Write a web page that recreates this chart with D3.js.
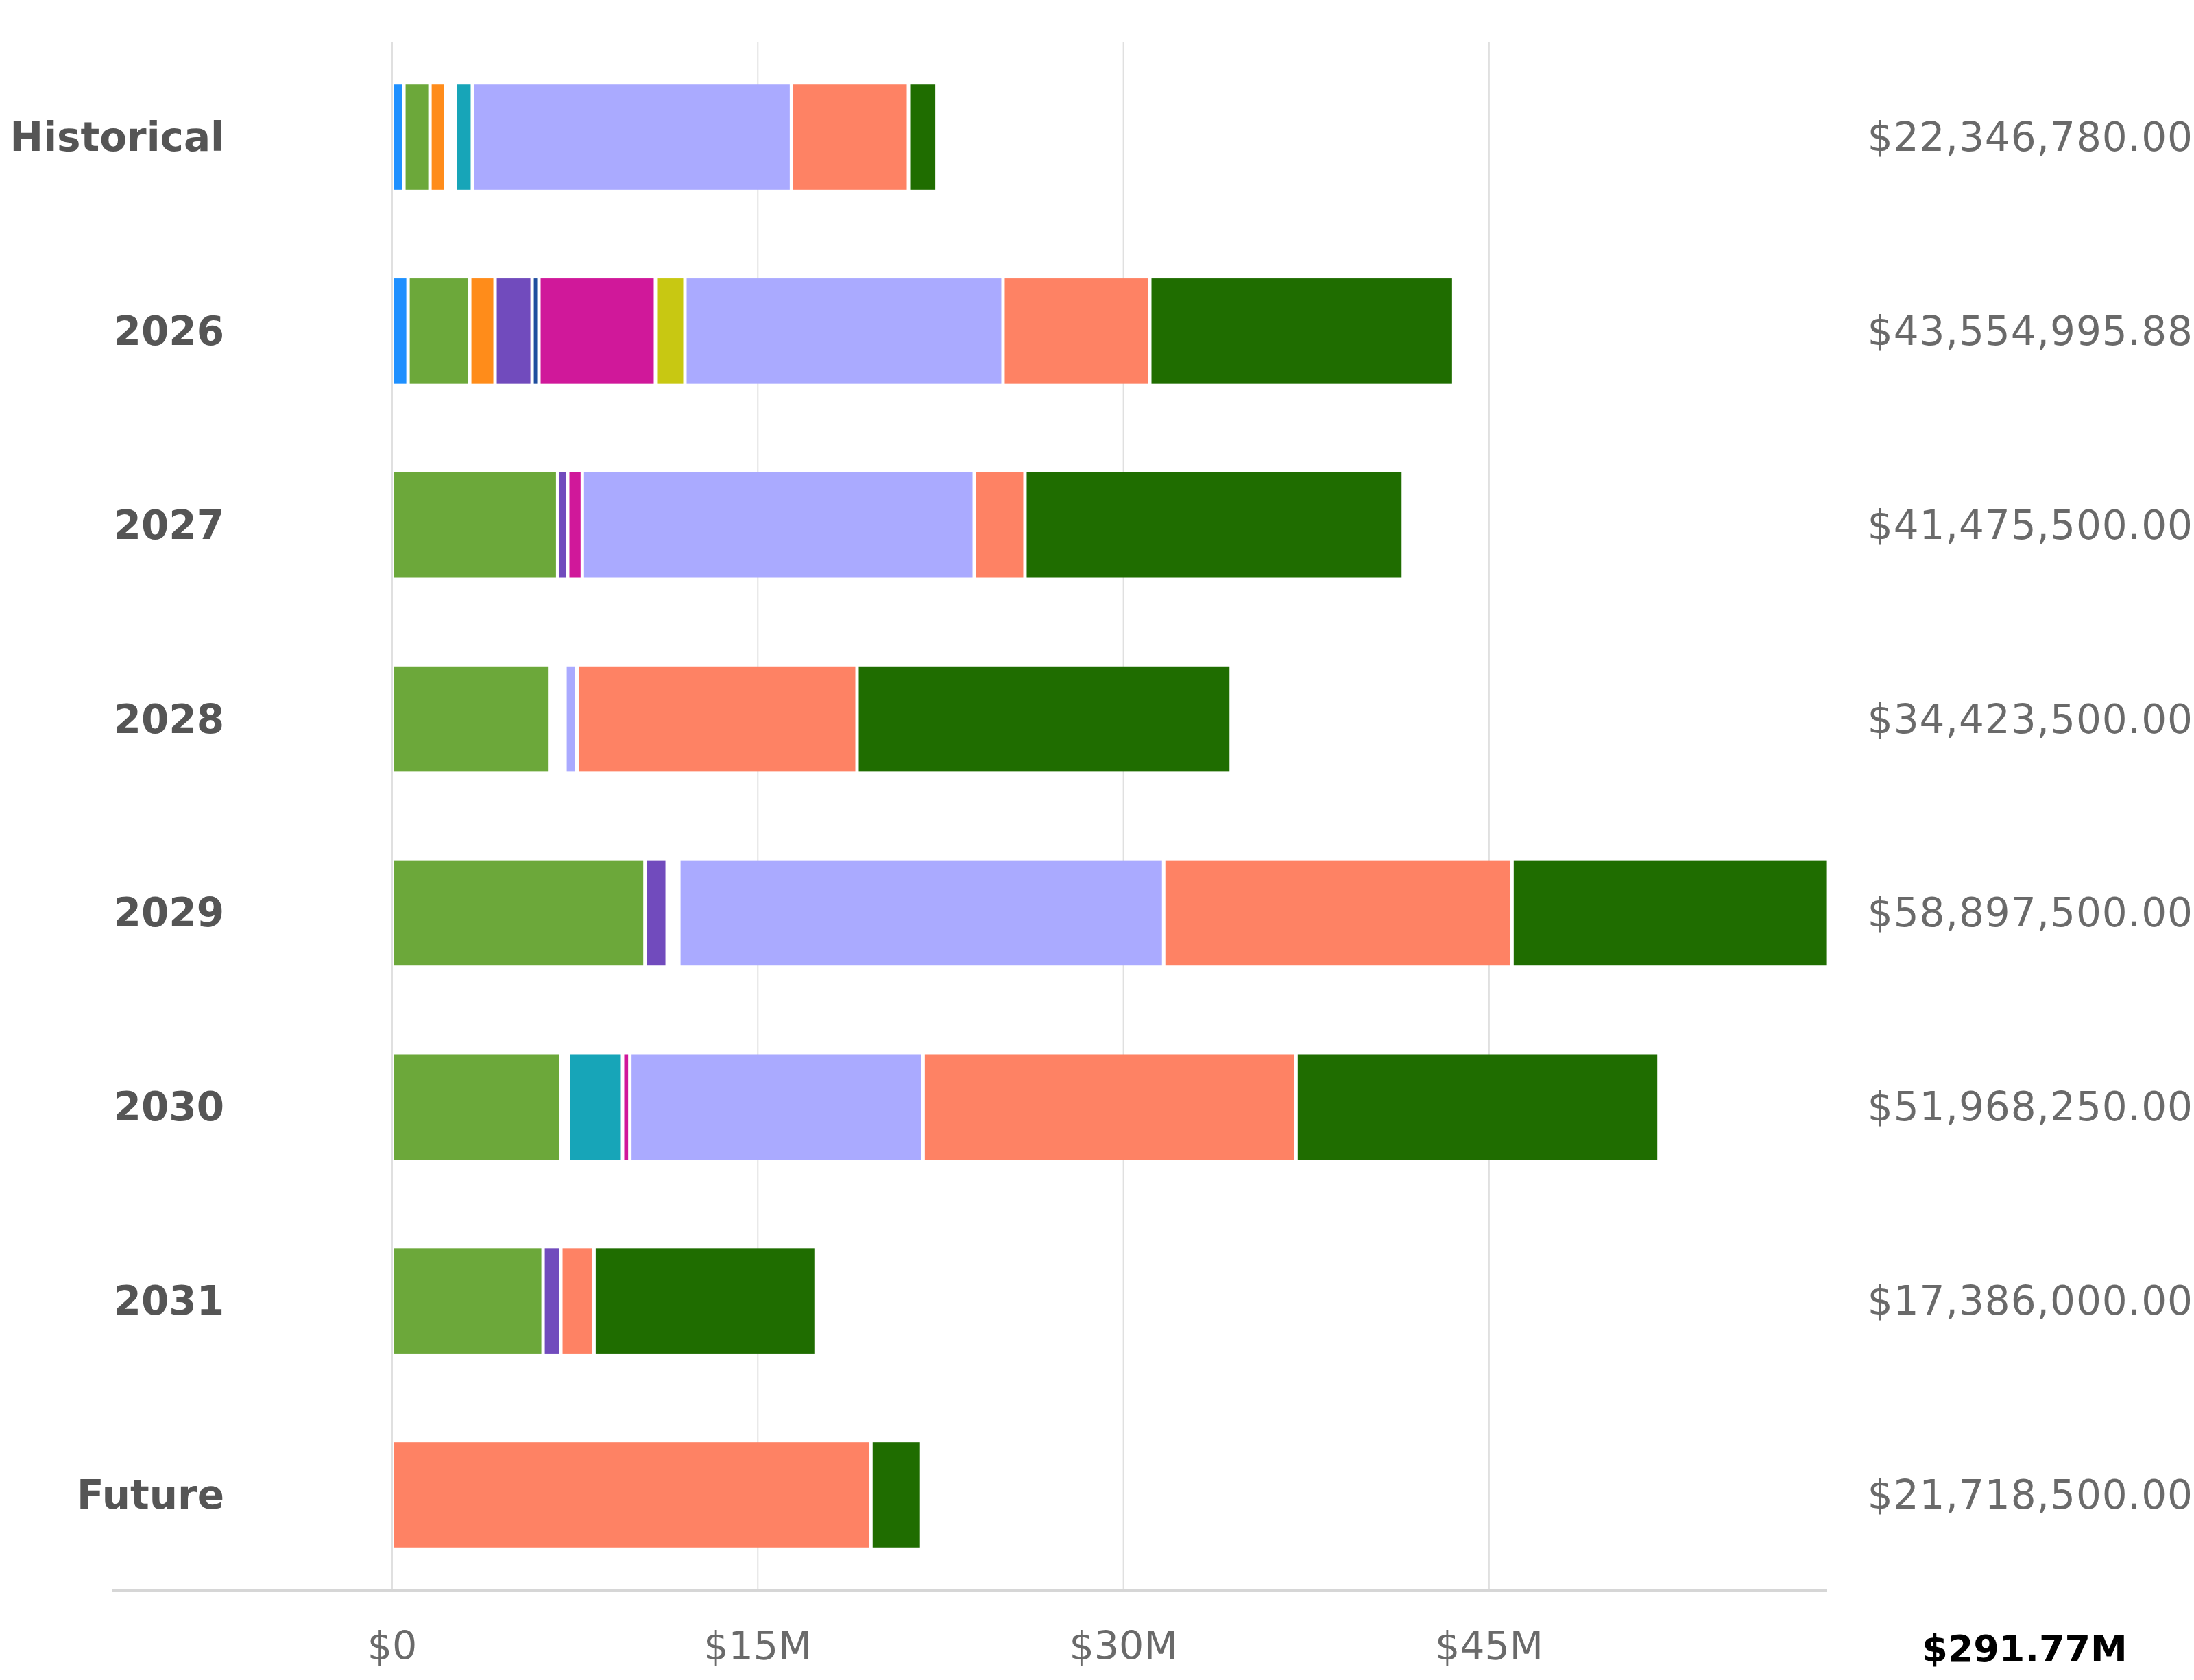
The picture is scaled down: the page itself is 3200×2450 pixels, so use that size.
<!DOCTYPE html>
<html>
<head>
<meta charset="utf-8">
<script src="https://cdn.jsdelivr.net/npm/d3@7"></script>
<style>
  body { margin: 0; background: #ffffff; }
  text { font-family: "DejaVu Sans", sans-serif; }
</style>
</head>
<body>
<div id="chart"></div>
<script>
var width = 3200;
var height = 2450;

// rows, top to bottom
var categories = ["Historical", "2026", "2027", "2028", "2029", "2030", "2031", "Future"];

// row totals in dollars (right hand labels)
var totals = [22346780.00, 43554995.88, 41475500.00, 34423500.00, 58897500.00, 51968250.00, 17386000.00, 21718500.00];

// stacked segments, $M per row
var seriesKeys = ["s1", "s2", "s3", "s4", "s5", "s6", "s7", "s8", "s9", "s10", "s11", "s12"];
var s1  = [0.48, 0.65, 0, 0, 0, 0, 0, 0];
var s2  = [1.07, 2.53, 6.79, 6.46, 10.37, 6.91, 6.19, 0];
var s3  = [0.65, 1.04, 0, 0, 0, 0, 0, 0];
var s4  = [0, 1.52, 0.41, 0, 0.91, 0, 0.73, 0];
var s5  = [0, 0.28, 0, 0, 0, 0, 0, 0];
var s6  = [0.39, 0, 0, 0.63, 0.48, 0.32, 0, 0];
var s7  = [0.70, 0, 0, 0, 0, 2.22, 0, 0];
var s8  = [0, 4.78, 0.60, 0, 0, 0.30, 0, 0];
var s9  = [0, 1.21, 0, 0, 0, 0, 0, 0];
var s10 = [13.09, 13.05, 16.08, 0.49, 19.89, 12.03, 0, 0];
var s11 = [4.80, 6.02, 2.08, 11.49, 14.29, 15.30, 1.36, 19.64];
var s12 = [1.17, 12.47, 15.52, 15.35, 12.96, 14.89, 9.11, 2.08];
var seriesValues = [s1, s2, s3, s4, s5, s6, s7, s8, s9, s10, s11, s12];

var seriesColors = ["#1e90ff", "#6ca83a", "#ff8c1a", "#714bbd", "#1f4e9e", "#ffffff",
                    "#17a5b8", "#d0189a", "#c8c812", "#aaaaff", "#fe8264", "#1f6d00"];

var tickValues = [0, 15, 30, 45];
var tickLabels = ["$0", "$15M", "$30M", "$45M"];

// build rows for d3.stack
var rows = categories.map(function(c, i){
	var row = {cat: c};
	seriesKeys.forEach(function(k, j){ row[k] = seriesValues[j][i]; });
	return row;
});
var stacked = d3.stack().keys(seriesKeys)(rows);

var svg = d3.select("#chart").append("svg")
			.attr("width", width)
			.attr("height", height);

var x = d3.scaleLinear()
		  .domain([0, d3.max(totals) / 1e6])
		  .range([572, 2666]);

var y = d3.scaleBand()
		  .domain(categories)
		  .range([61, 2319])
		  .paddingInner(0.457)
		  .paddingOuter(0.22);

var color = d3.scaleOrdinal().domain(seriesKeys).range(seriesColors);

// grid lines
svg.append("g")
   .selectAll("line")
   .data(tickValues)
   .enter()
   .append("line")
   .attr("x1", function(d){ return x(d); })
   .attr("x2", function(d){ return x(d); })
   .attr("y1", 61)
   .attr("y2", 2319)
   .attr("stroke", "#e0e0e0")
   .attr("stroke-width", 2);

// baseline
svg.append("line")
   .attr("x1", 163)
   .attr("x2", 2664)
   .attr("y1", 2319)
   .attr("y2", 2319)
   .attr("stroke", "#d6d6d6")
   .attr("stroke-width", 4);

// bars, 5px white gap between segments
var gap = 5;
svg.append("g")
   .selectAll("g")
   .data(stacked)
   .enter()
   .append("g")
   .attr("fill", function(d){ return color(d.key); })
   .selectAll("rect")
   .data(function(d){ return d.filter(function(p){ return p[1] - p[0] > 0; }); })
   .enter()
   .append("rect")
   .attr("x", function(d){ return x(d[0]) + gap / 2; })
   .attr("y", function(d){ return y(d.data.cat); })
   .attr("width", function(d){ return Math.max(0, x(d[1]) - x(d[0]) - gap); })
   .attr("height", y.bandwidth());

// category labels
svg.append("g")
   .selectAll("text")
   .data(categories)
   .enter()
   .append("text")
   .attr("x", 327)
   .attr("y", function(d){ return y(d) + y.bandwidth() / 2; })
   .attr("text-anchor", "end")
   .attr("dominant-baseline", "central")
   .attr("font-size", 58)
   .attr("font-weight", "bold")
   .attr("fill", "#555555")
   .text(function(d){ return d; });

// row totals
var money = d3.format("$,.2f");
svg.append("g")
   .selectAll("text")
   .data(totals)
   .enter()
   .append("text")
   .attr("x", 3199)
   .attr("y", function(d, i){ return y(categories[i]) + y.bandwidth() / 2; })
   .attr("text-anchor", "end")
   .attr("dominant-baseline", "central")
   .attr("font-size", 58)
   .attr("letter-spacing", 1)
   .attr("fill", "#6a6a6a")
   .text(function(d){ return money(d); });

// x tick labels
svg.append("g")
   .selectAll("text")
   .data(tickValues)
   .enter()
   .append("text")
   .attr("x", function(d){ return x(d); })
   .attr("y", 2400)
   .attr("text-anchor", "middle")
   .attr("dominant-baseline", "central")
   .attr("font-size", 57)
   .attr("fill", "#6a6a6a")
   .text(function(d, i){ return tickLabels[i]; });

// grand total
var grand = d3.sum(totals);
svg.append("text")
   .attr("x", 2953)
   .attr("y", 2404)
   .attr("text-anchor", "middle")
   .attr("dominant-baseline", "central")
   .attr("font-size", 54)
   .attr("font-weight", "bold")
   .attr("fill", "#000000")
   .text("$" + (grand / 1e6).toFixed(2) + "M");
</script>
</body>
</html>
